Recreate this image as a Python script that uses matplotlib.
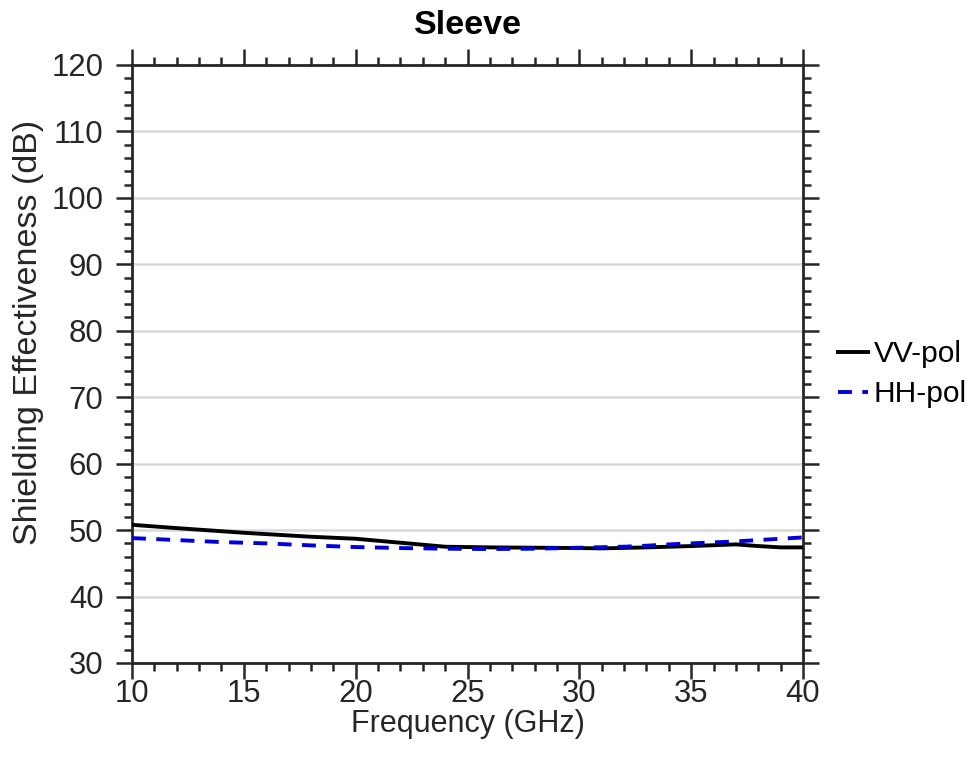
import matplotlib
matplotlib.use("Agg")
import matplotlib.pyplot as plt
from matplotlib.ticker import MultipleLocator

plt.rcParams['font.family'] = ['Liberation Sans', 'DejaVu Sans']
plt.rcParams['lines.scale_dashes'] = False

freq_vv = [10, 12, 15, 18, 20, 22, 24, 26, 28, 30, 31, 33, 35, 37, 38, 39, 40]
se_vv = [50.8, 50.3, 49.6, 49.0, 48.7, 48.1, 47.5, 47.4, 47.35, 47.3, 47.25, 47.4, 47.6, 47.85, 47.6, 47.4, 47.4]

freq_hh = [10, 12, 14, 16, 18, 20, 22, 24, 26, 28, 30, 32, 33, 34, 35, 36, 37, 38, 39, 40]
se_hh = [48.8, 48.5, 48.2, 48.0, 47.7, 47.45, 47.3, 47.2, 47.15, 47.2, 47.35, 47.5, 47.65, 47.85, 48.0, 48.15, 48.3, 48.5, 48.7, 48.9]

labels = ['VV-pol', 'HH-pol']
title = 'Sleeve'
xlabel = 'Frequency (GHz)'
ylabel = 'Shielding Effectiveness (dB)'

dark = '#262626'

fig = plt.figure(figsize=(9.78, 7.65), dpi=100)
ax = fig.add_axes([132/978, 1-663/765, (803-132)/978, (663-65)/765])

ax.plot(freq_vv, se_vv, color='black', lw=2.8, label=labels[0], zorder=3)
ax.plot(freq_hh, se_hh, color='#0000dd', lw=2.8, dashes=(10, 7.5), label=labels[1], zorder=4)

ax.set_xlim(10, 40)
ax.set_ylim(30, 120)
ax.xaxis.set_major_locator(MultipleLocator(5))
ax.xaxis.set_minor_locator(MultipleLocator(1))
ax.yaxis.set_major_locator(MultipleLocator(10))
ax.yaxis.set_minor_locator(MultipleLocator(2))

ax.grid(axis='y', which='major', color='#d9d9d9', lw=1.8, zorder=0)
ax.set_axisbelow(True)

for s in ax.spines.values():
    s.set_linewidth(2.0)
    s.set_color(dark)

ax.tick_params(which='both', direction='out', top=True, right=True, color=dark, width=1.8)
ax.tick_params(which='major', length=11.5)
ax.tick_params(which='minor', length=5.5)
ax.tick_params(axis='x', which='major', labelsize=22.4, pad=0, labelcolor=dark)
ax.tick_params(axis='y', which='major', labelsize=22.4, pad=9, labelcolor=dark)

ax.set_xlabel(xlabel, fontsize=22, labelpad=0, color=dark)
ax.set_ylabel(ylabel, fontsize=24.5, color=dark)
ax.yaxis.set_label_coords((44-132)/671, (663-332)/598)
ax.set_title(title, fontsize=24.5, fontweight='bold', pad=22, color='black')

fig.legend(loc='center left', bbox_to_anchor=(838/978, 1-374/765), frameon=False,
           fontsize=21.5, handlelength=1.0, handletextpad=0.2, labelspacing=0.4,
           borderpad=0, borderaxespad=0)

fig.savefig('out.png', dpi=100)
